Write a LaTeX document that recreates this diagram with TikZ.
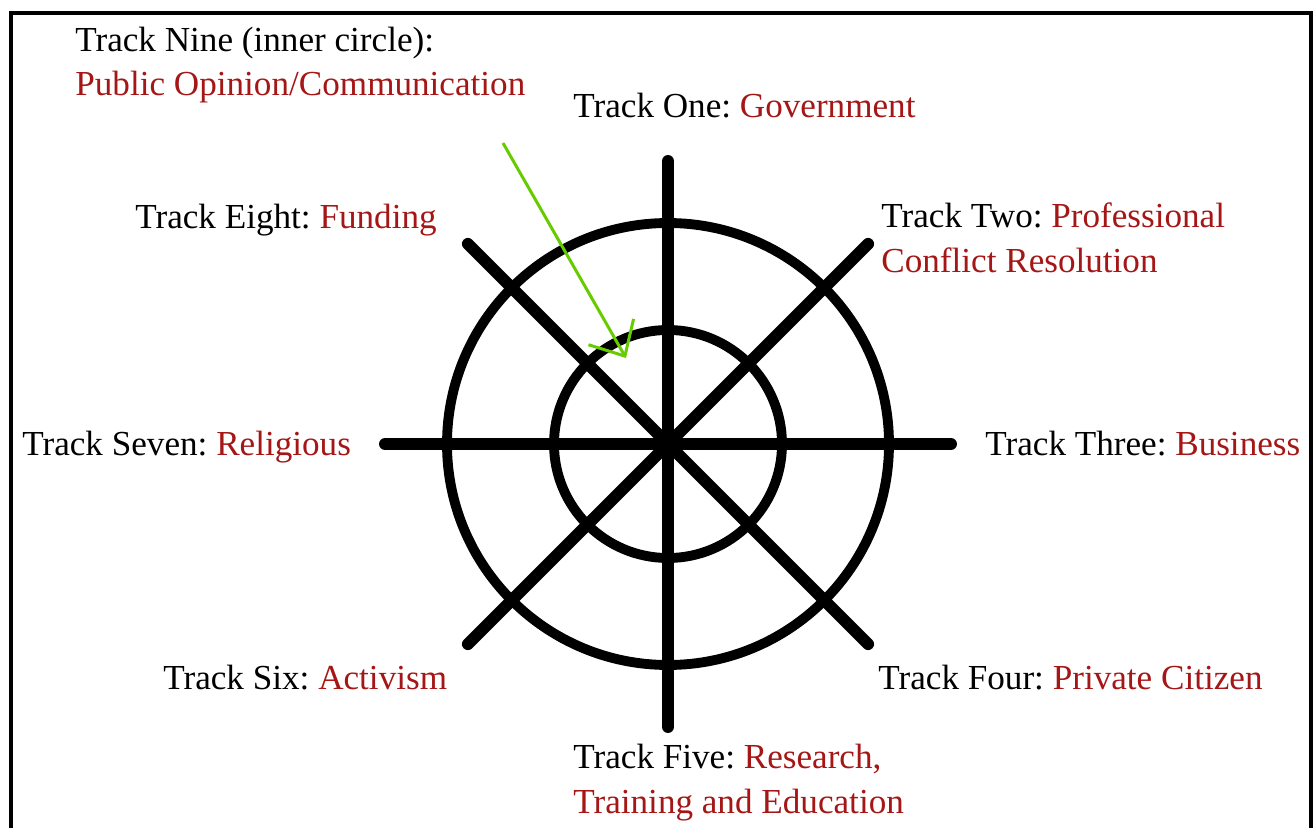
\documentclass[tikz,border=0pt]{standalone}
\usepackage{fontspec}
\setmainfont{Liberation Serif}
\usetikzlibrary{arrows.meta}

\definecolor{trackred}{RGB}{165,22,22}
\definecolor{arrowgreen}{RGB}{102,204,0}

\begin{document}
\frenchspacing
\begin{tikzpicture}[x=0.02cm, y=-0.02cm,
		lbl/.style={anchor=base west, inner sep=0pt, align=left,
			font=\fontsize{20}{25.6}\selectfont},
		spoke/.style={line width=6.8pt, line cap=round},
		ring/.style={line width=5.6pt}]
		\useasboundingbox (0,0) rectangle (1315,828);
		% open frame, the bottom edge runs off the page
		\draw[line width=2.3pt] (11,828) |- (1311,13) -- (1311,828);

		\coordinate (hub) at (668,444);
		\draw[ring] (hub) circle (221);
		\draw[ring] (hub) circle (114);
		\foreach \a in {0,45,...,315}
			\draw[spoke] (hub) -- ++(\a:283);

		% two-line labels sit on the baseline of their last line
		\node[lbl] (nine) at (75,96) {Track Nine (inner circle):\\
			\color{trackred}Public Opinion/Communication};
		\node[lbl] (one) at (573,117) {Track One: \color{trackred}Government};
		\node[lbl] (two) at (881,272) {Track Two: \color{trackred}Professional\\
			\color{trackred}Conflict Resolution};
		\node[lbl] (three) at (985,455) {Track Three: \color{trackred}Business};
		\node[lbl] (four) at (878,689) {Track Four: \color{trackred}Private Citizen};
		\node[lbl] (five) at (573,813) {Track Five: \color{trackred}Research,\\
			\color{trackred}Training and Education};
		\node[lbl] (six) at (163,689) {Track Six: \color{trackred}Activism};
		\node[lbl] (seven) at (22,455) {Track Seven: \color{trackred}Religious};
		\node[lbl] (eight) at (135,228) {Track Eight: \color{trackred}Funding};

		% pointer from the track nine label onto the inner circle
		\coordinate (nineTail) at (503,143);
		\coordinate (nineTip) at (626,358);
		\draw[arrowgreen, line width=1.7pt,
			-{Straight Barb[length=0.56cm, width=1.04cm]}] (nineTail) -- (nineTip);
	\end{tikzpicture}
\end{document}
